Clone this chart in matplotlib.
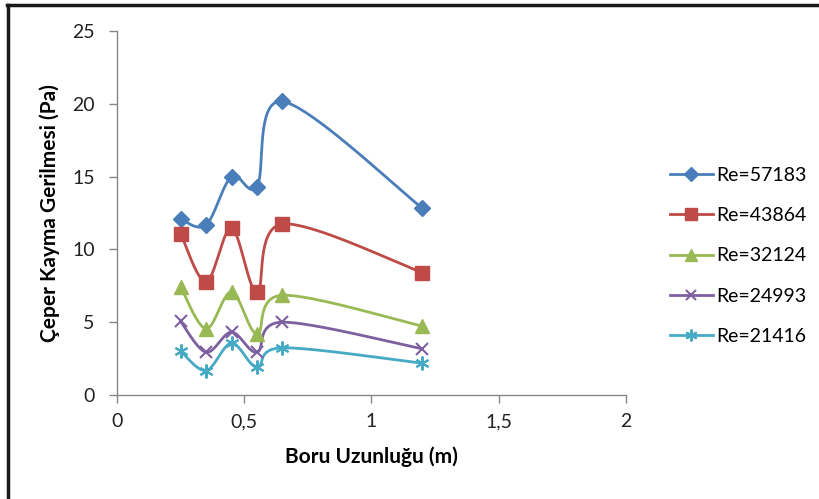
import matplotlib
matplotlib.use("Agg")
import matplotlib.pyplot as plt
from matplotlib.lines import Line2D
from matplotlib.ticker import FuncFormatter
import numpy as np

plt.rcParams['font.family'] = ['Lato', 'DejaVu Sans']

# boru uzunlugu (m)
uzunluk = [0.25, 0.35, 0.45, 0.55, 0.65, 1.2]

# ceper kayma gerilmesi (Pa), her Re sayisi icin
re_57183 = [12.07, 11.68, 15.0, 14.32, 20.16, 12.83]
re_43864 = [11.08, 7.77, 11.45, 7.08, 11.74, 8.41]
re_32124 = [7.42, 4.55, 7.08, 4.2, 6.85, 4.73]
re_24993 = [5.05, 2.94, 4.32, 2.94, 5.0, 3.17]
re_21416 = [3.01, 1.68, 3.56, 1.9, 3.24, 2.18]

etiketler = ["Re=57183", "Re=43864", "Re=32124", "Re=24993", "Re=21416"]
seriler = [re_57183, re_43864, re_32124, re_24993, re_21416]
renkler = ["#4A7EBB", "#BE4B48", "#98B954", "#7D60A0", "#46AAC5"]
isaretler = ["D", "s", "^", "x", (6, 2, 0)]
boyutlar = [8, 9.5, 9.5, 9, 10]

W, H = 820, 499
fig = plt.figure(figsize=(W / 100, H / 100), dpi=100)
ax = fig.add_axes([117 / W, (H - 395) / H, (626 - 117) / W, (395 - 31) / H])

ax.set_xlim(0, 2)
ax.set_ylim(0, 25)
ax.set_xticks([0, 0.5, 1, 1.5, 2])
ax.set_yticks([0, 5, 10, 15, 20, 25])
ax.xaxis.set_major_formatter(FuncFormatter(lambda v, p: f"{v:g}".replace(".", ",")))

for s in ["top", "right"]:
    ax.spines[s].set_visible(False)
for s in ["left", "bottom"]:
    ax.spines[s].set_color("#868686")
    ax.spines[s].set_linewidth(1)
ax.tick_params(direction="out", length=6, width=1, color="#868686",
               labelsize=14, labelcolor="#222222")
ax.tick_params(axis="y", pad=10)
ax.tick_params(axis="x", pad=7)


def yumusat(x, y, n=40):
    # Excel tarzi egri: ekran koordinatinda Catmull-Rom -> Bezier
    p = ax.transData.transform(np.column_stack([x, y]))
    m = len(p)
    parca = []
    for i in range(m - 1):
        p0 = p[i - 1] if i > 0 else p[i]
        p1, p2 = p[i], p[i + 1]
        p3 = p[i + 2] if i + 2 < m else p[i + 1]
        c1 = p1 + (p2 - p0) / 6
        c2 = p2 - (p3 - p1) / 6
        t = np.linspace(0, 1, n)[:, None]
        b = ((1 - t) ** 3) * p1 + 3 * ((1 - t) ** 2) * t * c1 + 3 * (1 - t) * t ** 2 * c2 + t ** 3 * p2
        parca.append(b if i == 0 else b[1:])
    egri = ax.transData.inverted().transform(np.vstack(parca))
    return egri[:, 0], egri[:, 1]


tutamaclar = []
for y, r, m, ms, lab in zip(seriler, renkler, isaretler, boyutlar, etiketler):
    sx, sy = yumusat(uzunluk, y)
    ax.plot(sx, sy, color=r, lw=2, zorder=2)
    mew = 1.5 if m in ("x", (6, 2, 0)) else 1
    ax.plot(uzunluk, y, ls="none", marker=m, ms=ms, color=r, mec=r, mew=mew, zorder=3)
    tutamaclar.append(Line2D([], [], color=r, lw=2, marker=m, ms=ms * 0.85, mec=r, mew=mew))

ax.set_xlabel("Boru Uzunluğu (m)", fontsize=15, fontweight="bold", labelpad=12)
ax.set_ylabel("Çeper Kayma Gerilmesi (Pa)", fontsize=15, fontweight="bold", labelpad=9)

fig.legend(tutamaclar, etiketler, loc="upper left", bbox_to_anchor=(662 / W, 1 - 159 / H),
           frameon=False, fontsize=14, handlelength=2.2, handletextpad=0.2,
           labelspacing=1.2, borderaxespad=0)

# dis cerceve
fig.add_artist(Line2D([7 / W, 1], [1 - 5 / H, 1 - 5 / H], color="#1a1a1a", lw=2.5,
                      transform=fig.transFigure))
fig.add_artist(Line2D([8 / W, 8 / W], [0, 1 - 5 / H], color="#1a1a1a", lw=2.5,
                      transform=fig.transFigure))

fig.savefig("out.png", dpi=100)
